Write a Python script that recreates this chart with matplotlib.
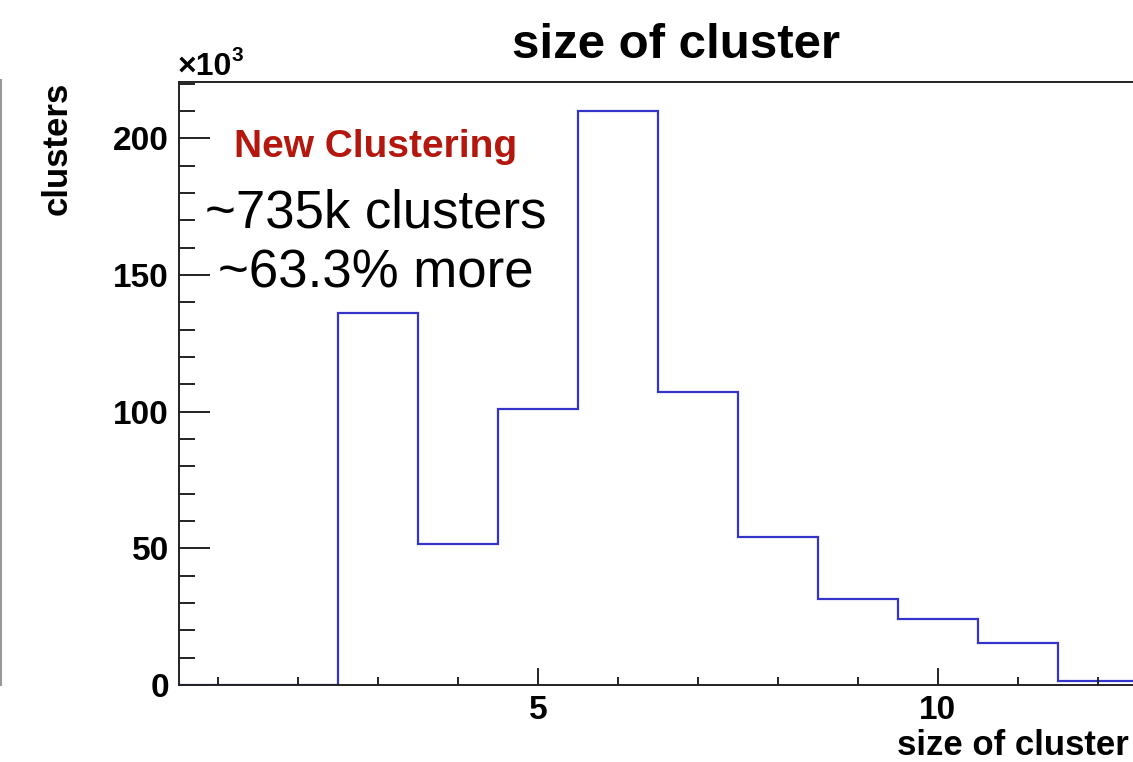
import matplotlib
matplotlib.use("Agg")
import matplotlib.pyplot as plt
import matplotlib.ticker as ticker
from matplotlib.lines import Line2D
import numpy as np

plt.rcParams['font.family'] = ['Liberation Sans', 'DejaVu Sans']
plt.rcParams['font.weight'] = 'bold'

# cluster size (hits per cluster) and number of clusters in each bin
cluster_size = [1, 2, 3, 4, 5, 6, 7, 8, 9, 10, 11, 12]
entries = [0, 0, 136100, 51600, 101000, 210100, 107200, 54100, 31500, 24100, 15300, 1500]

title = "size of cluster"
x_title = "size of cluster"
y_title = "clusters"
tag = "New Clustering"
summary = ["~735k clusters", "~63.3% more"]

W, H = 1133, 762


def px(x, y):
    # pixel position (from top-left) -> figure fraction
    return x / W, 1 - y / H


fig = plt.figure(figsize=(W / 100, H / 100), dpi=100)

x0, x1 = 0.5, 12.6
ax_left, ax_top, ax_bottom = 178.5, 81.7, 685
ax_width = (x1 - x0) * 79.92
ax = fig.add_axes([ax_left / W, 1 - ax_bottom / H, ax_width / W, (ax_bottom - ax_top) / H])

edges = np.append(np.array(cluster_size) - 0.5, cluster_size[-1] + 0.5)
counts = np.array(entries) / 1e3
ax.stairs(counts, edges, baseline=0, color='#3434c8', lw=1.6, zorder=1)

ax.set_xlim(x0, x1)
ax.set_ylim(0, 220.7)

for s in ax.spines.values():
    s.set_linewidth(1.4)
    s.set_color('#222222')

ax.xaxis.set_major_locator(ticker.MultipleLocator(5))
ax.xaxis.set_minor_locator(ticker.MultipleLocator(1))
ax.yaxis.set_major_locator(ticker.MultipleLocator(50))
ax.yaxis.set_minor_locator(ticker.MultipleLocator(10))

ax.tick_params(axis='x', which='major', direction='in', length=12.2, width=1.4,
               labelsize=24, pad=7, color='#222222')
ax.tick_params(axis='x', which='minor', direction='in', length=6.1, width=1.4, color='#222222')
ax.tick_params(axis='y', which='major', direction='in', length=22.3, width=1.4,
               labelsize=24, pad=7, color='#222222')
ax.tick_params(axis='y', which='minor', direction='in', length=11.2, width=1.4, color='#222222')

# exponent marker above the y axis
fig.text(*px(178, 75), "×10", fontsize=23, ha='left', va='baseline')
fig.text(*px(231, 61), "3", fontsize=15, ha='left', va='baseline')

fig.text(*px(676, 58), title, fontsize=35.5, ha='center', va='baseline')
fig.text(*px(897, 755), x_title, fontsize=25, ha='left', va='baseline')
fig.text(*px(57, 82), y_title, fontsize=25, rotation=90, ha='center', va='top')

fig.text(*px(376, 157), tag, fontsize=28, color='#b3170d', ha='center', va='baseline')
fig.text(*px(376, 228), summary[0], fontsize=38, fontweight='normal',
         ha='center', va='baseline')
fig.text(*px(376, 288), summary[1], fontsize=38, fontweight='normal',
         ha='center', va='baseline')

# edge of the neighbouring pad
fig.add_artist(Line2D([1.2 / W, 1.2 / W], [1 - 80 / H, 1 - 685 / H],
                      color='#9a9a9a', lw=1.5))

fig.savefig("out.png", dpi=100)
